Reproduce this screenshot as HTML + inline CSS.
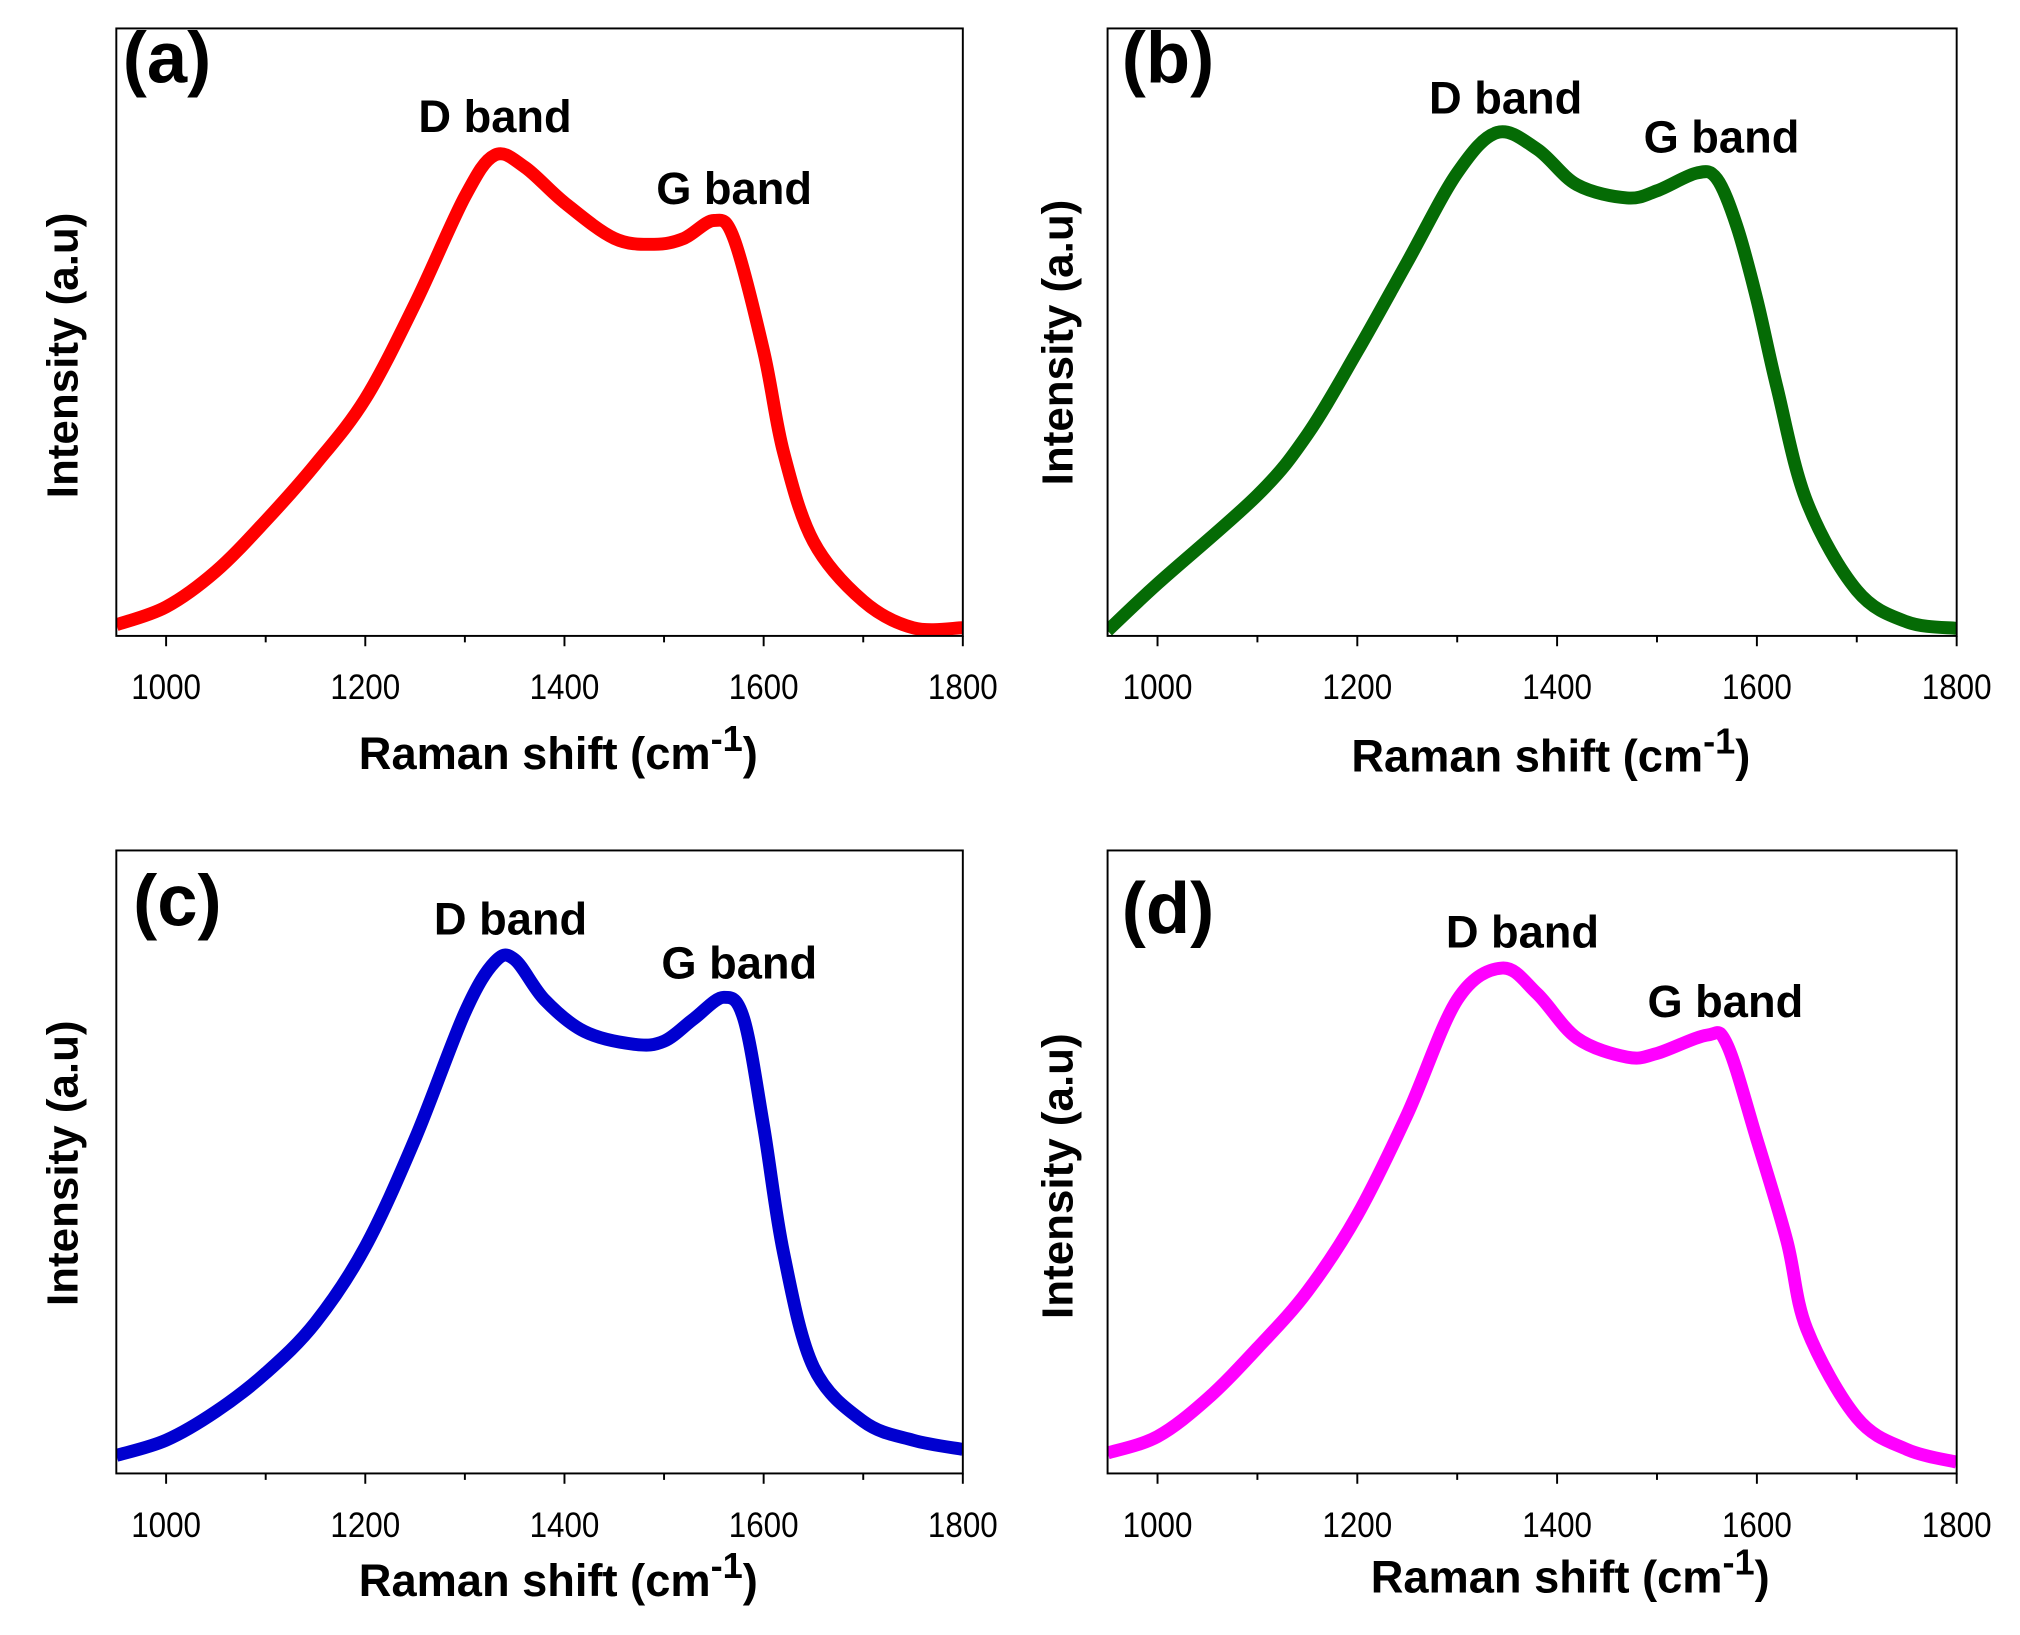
<!DOCTYPE html>
<html><head><meta charset="utf-8">
<style>
html,body{margin:0;padding:0;background:#fff;}
svg{display:block;}
text{font-family:"Liberation Sans",Arial,sans-serif;fill:#000;}
</style></head>
<body>
<svg id="fig" width="2020" height="1635" viewBox="0 0 1563 1265" preserveAspectRatio="none" xmlns="http://www.w3.org/2000/svg"></svg>
<script>
const xTicks = [1000, 1200, 1400, 1600, 1800];
const xMinor = [1100, 1300, 1500, 1700];
const xsA = [950,1000,1050,1100,1150,1200,1250,1300,1330,1360,1400,1450,1490,1520,1550,1570,1600,1620,1650,1700,1750,1800];
const ysA = [1,4,10,18.5,28,39,55,73,80,78,72,66,65,66,69,66,47,30,15,5,0.5,0.5];
const xsB = [950,1000,1100,1150,1200,1250,1300,1340,1380,1420,1470,1500,1540,1560,1580,1600,1620,1650,1700,1750,1800];
const ysB = [0,7.9,22.8,33,47,62,77,83.8,81,75,72.8,74,77,76,68,55.7,41,21.7,6.8,1.5,0.4];
const xsC = [950,1000,1050,1100,1150,1200,1250,1300,1330,1350,1380,1420,1470,1500,1530,1560,1580,1600,1620,1650,1700,1750,1800];
const ysC = [2.1,4.6,9.3,15.6,23.9,36.3,54,74.7,83,83.4,76.8,71.6,69.5,70,73.7,77.2,73.7,56,35.3,16.6,7.7,4.6,3.1];
const xsD = [950,1000,1050,1100,1150,1200,1250,1300,1345,1380,1420,1470,1500,1550,1570,1600,1630,1650,1700,1750,1800];
const ysD = [2.5,5.2,11.4,19.7,29,41.5,58,76.8,82,77.8,70.5,67.4,68,71,69.5,53.9,37.3,22.8,8.3,3.1,1];

const NS = "http://www.w3.org/2000/svg";
const svg = document.getElementById('fig');
function mk(tag, attrs, parent, txt){
  const e = document.createElementNS(NS, tag);
  for (const k in attrs) e.setAttribute(k, attrs[k]);
  if (txt !== undefined) e.textContent = txt;
  (parent||svg).appendChild(e);
  return e;
}
const panels = [
  {id:'a', xs:xsA, ys:ysA, color:'#ff0000', L:90, R:745, T:22, B:492, letter:[95,64], D:[383,102], G:[568,158], yt:[60,275], xt:[432,595]},
  {id:'b', xs:xsB, ys:ysB, color:'#056b05', L:857, R:1514, T:22, B:492, letter:[868,64], D:[1165,88], G:[1332,118], yt:[830,265], xt:[1200,597]},
  {id:'c', xs:xsC, ys:ysC, color:'#0000d0', L:90, R:745, T:658, B:1140, letter:[103,716], D:[395,723], G:[572,757], yt:[60,900], xt:[432,1235]},
  {id:'d', xs:xsD, ys:ysD, color:'#ff00ff', L:857, R:1514, T:658, B:1140, letter:[868,722], D:[1178,733], G:[1335,787], yt:[830,910], xt:[1215,1232]}
];
panels.forEach(p => {
  const g = mk('g', {});
  
  
  const sx = v => p.L + (v - 950) / 850 * (p.R - p.L);
  const sy = v => p.B - 4 - v / 100 * (p.B - p.T - 10);
  const pts = p.xs.map((x, i) => [sx(x), sy(p.ys[i])]);
  let d = 'M' + pts[0][0] + ',' + pts[0][1];
  for (let i = 0; i < pts.length - 1; i++) {
    const p0 = pts[Math.max(0, i - 1)], p1 = pts[i], p2 = pts[i + 1], p3 = pts[Math.min(pts.length - 1, i + 2)];
    const c1 = [p1[0] + (p2[0] - p0[0]) / 6, p1[1] + (p2[1] - p0[1]) / 6];
    const c2 = [p2[0] - (p3[0] - p1[0]) / 6, p2[1] - (p3[1] - p1[1]) / 6];
    d += ' C' + c1.join(',') + ' ' + c2.join(',') + ' ' + p2.join(',');
  }
  const clip = mk('clipPath', {id: 'clip' + p.id}, g);
  mk('rect', {x: p.L, y: p.T, width: p.R - p.L, height: p.B - p.T}, clip);
  const line = mk('path', {d: d, fill: 'none', stroke: p.color, 'stroke-width': 10, 'stroke-linejoin': 'round', 'clip-path': 'url(#clip' + p.id + ')'}, g);
  
  
  const frame = mk('rect', {x: p.L, y: p.T, width: p.R - p.L, height: p.B - p.T, fill: 'none', stroke: '#000', 'stroke-width': 1.5}, g);
  
  
  xTicks.forEach(t => {
    mk('line', {x1: sx(t), x2: sx(t), y1: p.B, y2: p.B + 8, stroke: '#000', 'stroke-width': 1.5}, g);
    const tl = mk('text', {x: sx(t), y: p.B + 49, 'text-anchor': 'middle', 'font-size': 27, textLength: 54, lengthAdjust: 'spacingAndGlyphs'}, g, String(t));
    
    
  });
  xMinor.forEach(t => {
    mk('line', {x1: sx(t), x2: sx(t), y1: p.B, y2: p.B + 5, stroke: '#000', 'stroke-width': 1.5}, g);
  });
  const lt = mk('text', {x: p.letter[0], y: p.letter[1], 'font-size': 56, 'font-weight': 'bold'}, g, '(' + p.id + ')');
  
  
  const dl = mk('text', {x: p.D[0], y: p.D[1], 'text-anchor': 'middle', 'font-size': 35, 'font-weight': 'bold'}, g, 'D band');
  
  
  const gl = mk('text', {x: p.G[0], y: p.G[1], 'text-anchor': 'middle', 'font-size': 35, 'font-weight': 'bold'}, g, 'G band');
  
  
  const yt = mk('text', {x: 0, y: 0, 'text-anchor': 'middle', 'font-size': 34, 'font-weight': 'bold', transform: 'translate(' + p.yt[0] + ',' + p.yt[1] + ') rotate(-90)'}, g, 'Intensity (a.u)');
  
  
  const xt = mk('text', {x: p.xt[0], y: p.xt[1], 'text-anchor': 'middle', 'font-size': 35, 'font-weight': 'bold'}, g);
  
  
  mk('tspan', {}, xt, 'Raman shift (cm');
  mk('tspan', {dy: -14, 'font-size': 28}, xt, '-1');
  mk('tspan', {dy: 14}, xt, ')');
});
</script>
</body></html>
